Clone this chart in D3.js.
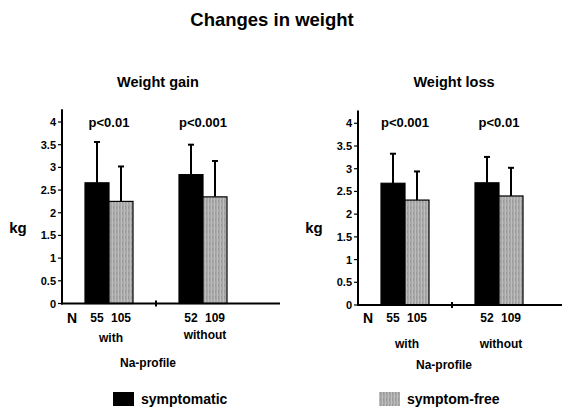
<!DOCTYPE html>
<html><head><meta charset="utf-8">
<script src="https://cdn.jsdelivr.net/npm/d3@7"></script>
<style>body{margin:0;background:#fff}svg{display:block;font-family:"Liberation Sans",Arial,sans-serif;font-weight:bold}</style>
</head><body><svg id="c" width="562" height="409"></svg>
<script>
const groups = ["with", "without"];
const series = ["symptomatic", "symptom-free"];
const nCounts = [[55, 105], [52, 109]];
const yTicks = [0, 0.5, 1, 1.5, 2, 2.5, 3, 3.5, 4];
const tickLabels = ["0", "0.5", "1", "1.5", "2", "2.5", "3", "3.5", "4"];
// Weight gain: means and top of error bars
const gainSymptomatic = [2.66, 2.84];
const gainSymptomaticErr = [3.56, 3.50];
const gainFree = [2.25, 2.35];
const gainFreeErr = [3.02, 3.14];
const gainP = ["p<0.01", "p<0.001"];
// Weight loss
const lossSymptomatic = [2.68, 2.69];
const lossSymptomaticErr = [3.33, 3.26];
const lossFree = [2.31, 2.40];
const lossFreeErr = [2.94, 3.02];
const lossP = ["p<0.001", "p<0.01"];

const svg = d3.select("#c");
const defs = svg.append("defs");
const pat = defs.append("pattern").attr("id","tex").attr("patternUnits","userSpaceOnUse").attr("width",3).attr("height",6);
pat.append("rect").attr("width",3).attr("height",6).attr("fill","#a8a8a8");
pat.append("rect").attr("x",1).attr("width",1).attr("height",6).attr("fill","#bdbdbd");
pat.append("rect").attr("x",2).attr("y",2).attr("width",1).attr("height",3).attr("fill","#999");
const fills = ["#000", "url(#tex)"];

svg.append("text").attr("x",272).attr("y",26).attr("text-anchor","middle").attr("font-size",18.5).text("Changes in weight");

const panels = [
  {title:"Weight gain", axisX:62, xEnd:280, y0:303.5, y4:122, means:[gainSymptomatic,gainFree], errs:[gainSymptomaticErr,gainFreeErr], p:gainP, kgX:18, wy:342, wDelta:[0,-3], naX:148, naY:367},
  {title:"Weight loss", axisX:358, xEnd:562, y0:305, y4:123.3, means:[lossSymptomatic,lossFree], errs:[lossSymptomaticErr,lossFreeErr], p:lossP, kgX:314, wy:348, wDelta:[0,0], naX:444, naY:369}
];

panels.forEach(P => {
  const g = svg.append("g");
  const y = d3.scaleLinear().domain([0,4]).range([P.y0, P.y4]);
  const xg = d3.scalePoint().domain(groups).range([P.axisX+47, P.axisX+141]);
  const xs = d3.scaleBand().domain(series).range([-24, 24]);
  g.append("text").attr("x", xg.range()[0]+47+2).attr("y",87).attr("text-anchor","middle").attr("font-size",14.5).text(P.title);
  // y axis
  g.append("line").attr("x1",P.axisX).attr("x2",P.axisX).attr("y1",y(4.28)).attr("y2",y(0)+1).attr("stroke","#000").attr("stroke-width",2);
  yTicks.forEach((t,i) => {
    g.append("line").attr("x1",P.axisX-4).attr("x2",P.axisX).attr("y1",y(t)).attr("y2",y(t)).attr("stroke","#000").attr("stroke-width",1.2);
    g.append("text").attr("x",P.axisX-6).attr("y",y(t)+4).attr("text-anchor","end").attr("font-size",11).text(tickLabels[i]);
  });
  g.append("text").attr("x",P.kgX).attr("y",233).attr("text-anchor","middle").attr("font-size",15).text("kg");
  // bars
  groups.forEach((grp, gi) => {
    series.forEach((s, si) => {
      const v = P.means[si][gi], e = P.errs[si][gi];
      const x0 = xg(grp) + xs(s), w = xs.bandwidth(), cx = x0 + w/2;
      g.append("line").attr("x1",cx).attr("x2",cx).attr("y1",y(e)).attr("y2",y(v)).attr("stroke","#000").attr("stroke-width",2);
      g.append("line").attr("x1",cx-3).attr("x2",cx+3).attr("y1",y(e)).attr("y2",y(e)).attr("stroke","#000").attr("stroke-width",2);
      g.append("rect").attr("x",x0).attr("y",y(v)).attr("width",w).attr("height",y(0)-y(v)).attr("fill",fills[si]).attr("stroke","#000").attr("stroke-width",1.2);
      g.append("text").attr("x",cx).attr("y",322).attr("text-anchor","middle").attr("font-size",12).text(nCounts[gi][si]);
    });
    g.append("text").attr("x",xg(grp)).attr("y",127).attr("text-anchor","middle").attr("font-size",13).text(P.p[gi]);
    g.append("text").attr("x",xg(grp)+2).attr("y",P.wy+P.wDelta[gi]).attr("text-anchor","middle").attr("font-size",12).text(grp);
  });
  // x axis
  g.append("line").attr("x1",P.axisX-1).attr("x2",P.xEnd).attr("y1",y(0)).attr("y2",y(0)).attr("stroke","#000").attr("stroke-width",2);
  const mid = (xg(groups[0]) + xg(groups[1]))/2;
  g.append("line").attr("x1",mid).attr("x2",mid).attr("y1",y(0)-3).attr("y2",y(0)+3).attr("stroke","#000").attr("stroke-width",2);
  g.append("text").attr("x",P.axisX+10).attr("y",323).attr("text-anchor","middle").attr("font-size",14).text("N");
  g.append("text").attr("x",P.naX).attr("y",P.naY).attr("text-anchor","middle").attr("font-size",12).text("Na-profile");
});

// legend
const legX = [113, 379];
series.forEach((s, i) => {
  svg.append("rect").attr("x",legX[i]).attr("y",392).attr("width",21).attr("height",14).attr("fill",fills[i]);
  svg.append("text").attr("x",legX[i]+28).attr("y",404).attr("font-size",14).text(s);
});
</script></body></html>
